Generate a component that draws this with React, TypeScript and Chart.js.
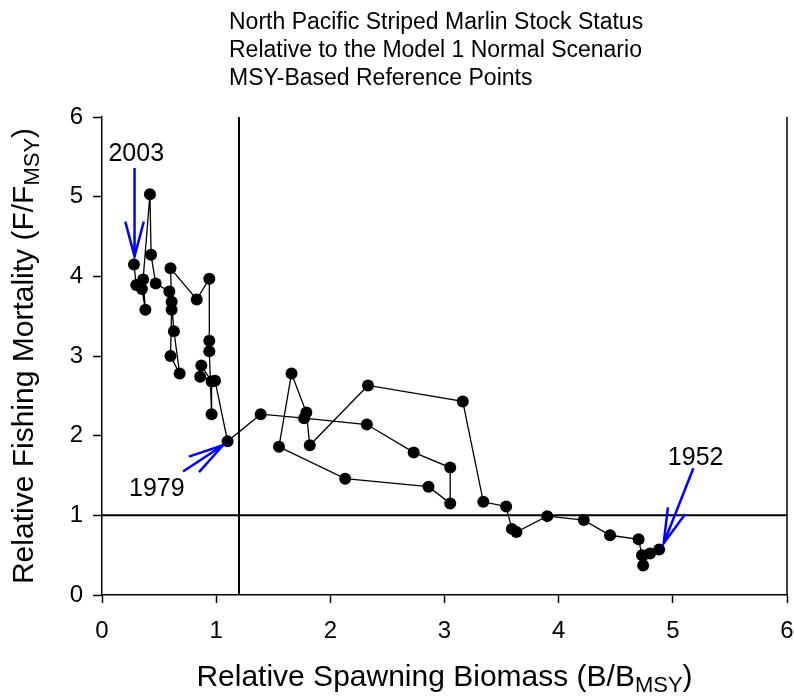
import React, { useEffect, useRef } from "react";
import { Chart, registerables } from "chart.js";

Chart.register(...registerables);

// Trajectory 1952 -> 2003 (relative spawning biomass, relative fishing mortality)
const relBiomass = [
  4.88, 4.8, 4.74, 4.73, 4.7, 4.45, 4.22, 3.9, 3.63, 3.59, 3.54, 3.34, 3.16,
  2.33, 1.82, 1.79, 1.66, 1.55, 2.13, 2.86, 3.05, 3.05, 2.73, 2.32, 1.77, 1.39,
  1.1, 0.99, 0.86, 0.87, 0.96, 0.96, 0.94, 0.94, 0.94, 0.83, 0.6, 0.61, 0.63,
  0.68, 0.6, 0.61, 0.59, 0.47, 0.43, 0.42, 0.36, 0.38, 0.35, 0.3, 0.28,
];
const relF = [
  0.57, 0.52, 0.37, 0.5, 0.7, 0.75, 0.94, 0.99, 0.79, 0.83, 1.11, 1.17, 2.43,
  2.63, 1.88, 2.29, 2.78, 1.86, 1.46, 1.36, 1.15, 1.6, 1.79, 2.14, 2.22, 2.27,
  1.93, 2.69, 2.74, 2.88, 2.68, 2.27, 3.06, 3.19, 3.97, 3.71, 4.1, 3.68, 3.31,
  2.78, 3.0, 3.58, 3.81, 3.91, 4.27, 5.03, 3.96, 3.58, 3.84, 3.89, 4.15,
];

const axisTicks = [0, 1, 2, 3, 4, 5, 6];
const refBiomass = 1.2;
const refF = 1;

const titleLines = [
  "North Pacific Striped Marlin Stock Status",
  "Relative to the Model 1 Normal Scenario",
  "MSY-Based Reference Points",
];

// Annotations (data coordinates)
const annoLabels = ["1952", "1979", "2003"];
const annoLabelB = [5.2, 0.48, 0.3];
const annoLabelF = [1.72, 1.33, 5.53];
const arrowTailB = [5.18, 0.71, 0.285];
const arrowTailF = [1.59, 1.55, 5.36];
const arrowTipB = [4.92, 1.06, 0.285];
const arrowTipF = [0.65, 1.88, 4.25];

const FONT = '"Liberation Sans", Arial, Helvetica, sans-serif';

type Seg = { t: string; sub?: boolean };

function drawRich(ctx: CanvasRenderingContext2D, segs: Seg[], size: number, cx: number, baseline: number) {
  const subSize = Math.round(size * 0.72);
  let total = 0;
  const widths: number[] = [];
  for (const s of segs) {
    ctx.font = `${s.sub ? subSize : size}px ${FONT}`;
    const w = ctx.measureText(s.t).width;
    widths.push(w);
    total += w;
  }
  let x = cx - total / 2;
  ctx.textAlign = "left";
  ctx.textBaseline = "alphabetic";
  segs.forEach((s, i) => {
    ctx.font = `${s.sub ? subSize : size}px ${FONT}`;
    ctx.fillText(s.t, x, s.sub ? baseline + size * 0.2 : baseline);
    x += widths[i];
  });
}

const overlay = {
  id: "overlay",
  beforeDatasetsDraw(chart: any) {
    const { ctx, chartArea, scales } = chart;
    const { left, right, top, bottom } = chartArea;
    ctx.save();
    ctx.strokeStyle = "#000";
    ctx.lineWidth = 2;
    const vx = scales.x.getPixelForValue(refBiomass);
    ctx.beginPath();
    ctx.moveTo(vx, top);
    ctx.lineTo(vx, bottom);
    ctx.stroke();
    const hy = scales.y.getPixelForValue(refF);
    ctx.beginPath();
    ctx.moveTo(left, hy);
    ctx.lineTo(right, hy);
    ctx.stroke();
    ctx.lineWidth = 1.5;
    ctx.beginPath();
    ctx.moveTo(right, top);
    ctx.lineTo(right, bottom);
    ctx.stroke();
    ctx.restore();
  },
  afterDatasetsDraw(chart: any) {
    const { ctx, scales } = chart;
    const xs = scales.x;
    const ys = scales.y;
    ctx.save();
    ctx.strokeStyle = "#0000FF";
    ctx.lineWidth = 2.5;
    ctx.lineCap = "butt";
    for (let i = 0; i < annoLabels.length; i++) {
      const tx = xs.getPixelForValue(arrowTailB[i]);
      const ty = ys.getPixelForValue(arrowTailF[i]);
      const px = xs.getPixelForValue(arrowTipB[i]);
      const py = ys.getPixelForValue(arrowTipF[i]);
      ctx.beginPath();
      ctx.moveTo(tx, ty);
      ctx.lineTo(px, py);
      ctx.stroke();
      const ang = Math.atan2(py - ty, px - tx);
      const hl = 36;
      const spread = 0.26;
      ctx.beginPath();
      ctx.moveTo(px - hl * Math.cos(ang - spread), py - hl * Math.sin(ang - spread));
      ctx.lineTo(px, py);
      ctx.lineTo(px - hl * Math.cos(ang + spread), py - hl * Math.sin(ang + spread));
      ctx.stroke();
    }
    ctx.fillStyle = "#000";
    ctx.font = `25px ${FONT}`;
    ctx.textAlign = "center";
    ctx.textBaseline = "middle";
    for (let i = 0; i < annoLabels.length; i++) {
      ctx.fillText(annoLabels[i], xs.getPixelForValue(annoLabelB[i]), ys.getPixelForValue(annoLabelF[i]));
    }
    ctx.restore();
  },
  afterDraw(chart: any) {
    const { ctx, chartArea } = chart;
    ctx.save();
    ctx.fillStyle = "#000";
    // Title
    ctx.font = `23px ${FONT}`;
    ctx.textAlign = "left";
    ctx.textBaseline = "alphabetic";
    titleLines.forEach((t, i) => ctx.fillText(t, 229, 29 + i * 28));
    // X axis title
    const cx = (chartArea.left + chartArea.right) / 2;
    drawRich(
      ctx,
      [{ t: "Relative Spawning Biomass (B/B" }, { t: "MSY", sub: true }, { t: ")" }],
      30,
      cx,
      686
    );
    // Y axis title
    ctx.translate(33, (chartArea.top + chartArea.bottom) / 2);
    ctx.rotate(-Math.PI / 2);
    drawRich(
      ctx,
      [{ t: "Relative Fishing Mortality (F/F" }, { t: "MSY", sub: true }, { t: ")" }],
      30,
      0,
      0
    );
    ctx.restore();
  },
};

export default function App() {
  const ref = useRef<HTMLCanvasElement | null>(null);
  useEffect(() => {
    if (!ref.current) return;
    const points = relBiomass.map((b, i) => ({ x: b, y: relF[i] }));
    const chart = new Chart(ref.current, {
      type: "scatter",
      data: {
        datasets: [
          {
            data: points,
            showLine: true,
            borderColor: "#000",
            borderWidth: 1.3,
            pointRadius: 6,
            pointBackgroundColor: "#000",
            pointBorderColor: "#000",
            pointBorderWidth: 0,
            tension: 0,
          },
        ],
      },
      options: {
        animation: false,
        responsive: false,
        devicePixelRatio: 1,
        layout: { padding: { top: 117, right: 7, bottom: 0, left: 0 } },
        plugins: {
          legend: { display: false },
          tooltip: { enabled: false },
          title: { display: false },
        },
        scales: {
          x: {
            type: "linear",
            min: 0,
            max: 6,
            afterBuildTicks: (s: any) => {
              s.ticks = axisTicks.map((v) => ({ value: v }));
            },
            afterFit: (s: any) => {
              s.height = 105;
              s.paddingLeft = 0;
              s.paddingRight = 0;
            },
            grid: {
              display: true,
              drawOnChartArea: false,
              drawTicks: true,
              tickLength: 8,
              tickColor: "#000",
              tickWidth: 1.5,
            },
            border: { display: true, color: "#000", width: 1.5 },
            ticks: {
              color: "#000",
              font: { family: FONT, size: 24 },
              padding: 14,
              maxRotation: 0,
            },
          },
          y: {
            type: "linear",
            min: 0,
            max: 6,
            afterBuildTicks: (s: any) => {
              s.ticks = axisTicks.map((v) => ({ value: v }));
            },
            afterFit: (s: any) => {
              s.width = 102;
              s.paddingTop = 0;
              s.paddingBottom = 0;
            },
            grid: {
              display: true,
              drawOnChartArea: false,
              drawTicks: true,
              tickLength: 9,
              tickColor: "#000",
              tickWidth: 1.5,
            },
            border: { display: true, color: "#000", width: 1.5 },
            ticks: {
              color: "#000",
              font: { family: FONT, size: 24 },
              padding: 10,
            },
          },
        },
      },
      plugins: [overlay],
    });
    return () => chart.destroy();
  }, []);
  return (
    <div style={{ position: "absolute", left: 0, top: 0, width: 794, height: 700, background: "#fff" }}>
      <canvas ref={ref} width={794} height={700} style={{ display: "block" }} />
    </div>
  );
}
